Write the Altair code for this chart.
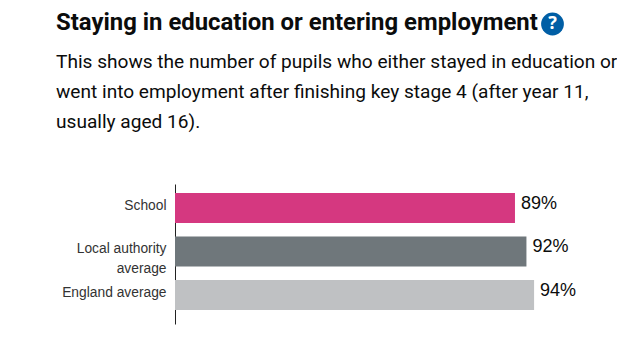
import altair as alt
import pandas as pd

categories = ["School", "Local authority average", "England average"]
values = [89, 92, 94]
labels = ["89%", "92%", "94%"]
colors = ["#d53880", "#6f777b", "#bfc1c3"]
title_text = "Staying in education or entering employment"
subtitle_lines = [
    "This shows the number of pupils who either stayed in education or",
    "went into employment after finishing key stage 4 (after year 11,",
    "usually aged 16).",
]

df = pd.DataFrame({"category": categories, "value": values, "label": labels})

y_enc = alt.Y(
    "category:N",
    sort=categories,
    title=None,
    scale=alt.Scale(paddingInner=0.31, paddingOuter=0.264, align=0.39),
    axis=alt.Axis(
        ticks=False,
        grid=False,
        domainColor="#222222",
        domainWidth=1,
        labelColor="#333333",
        labelFont="Liberation Sans",
        labelFontSize=13.8,
        labelPadding=9,
        labelBaseline="alphabetic",
        labelOffset=2,
        labelLineHeight=20,
        labelLimit=200,
        labelExpr="datum.label == 'Local authority average' ? ['Local authority', 'average'] : datum.label",
    ),
)
x_enc = alt.X("value:Q", axis=None, scale=alt.Scale(domain=[0, 100]))

bars = (
    alt.Chart(df)
    .mark_bar(cornerRadius=0)
    .encode(
        x=x_enc,
        y=y_enc,
        color=alt.Color("category:N", scale=alt.Scale(domain=categories, range=colors), legend=None),
    )
)

text = (
    alt.Chart(df)
    .mark_text(align="left", baseline="middle", dx=6, dy=-4, font="Liberation Sans", fontSize=18, color="#0b0c0c")
    .encode(x=x_enc, y=y_enc, text="label:N")
)

icon_df = pd.DataFrame({"q": ["?"]})
icon = (
    alt.Chart(icon_df)
    .mark_point(filled=True, shape="circle", size=520, color="#005ea5", opacity=1)
    .encode(x=alt.value(377.5), y=alt.value(-160))
)
icon_q = (
    alt.Chart(icon_df)
    .mark_text(font="Noto Sans", fontWeight="bold", fontSize=18, color="#ffffff", baseline="middle", align="center")
    .encode(x=alt.value(377.5), y=alt.value(-160), text="q:N")
)


def line(txt, y, size, weight="normal"):
    return (
        alt.Chart(pd.DataFrame({"t": [txt]}))
        .mark_text(font="Roboto", fontSize=size, fontWeight=weight, color="#0b0c0c",
                   align="left", baseline="alphabetic")
        .encode(x=alt.value(-119), y=alt.value(y), text="t:N")
    )


head = line(title_text, -154, 23.9, "bold")
subs = [line(s, -116 + i * 30, 19.1) for i, s in enumerate(subtitle_lines)]

chart = (
    alt.layer(bars, text, icon, icon_q, head, *subs)
    .properties(
        width=382,
        height=140,
        padding={"left": 167, "top": 176, "right": 60, "bottom": 10},
        autosize=alt.AutoSizeParams(type="none"),
    )
    .configure_view(stroke=None)
)

chart.save("out.html", embed_options={"renderer": "svg", "actions": False})
